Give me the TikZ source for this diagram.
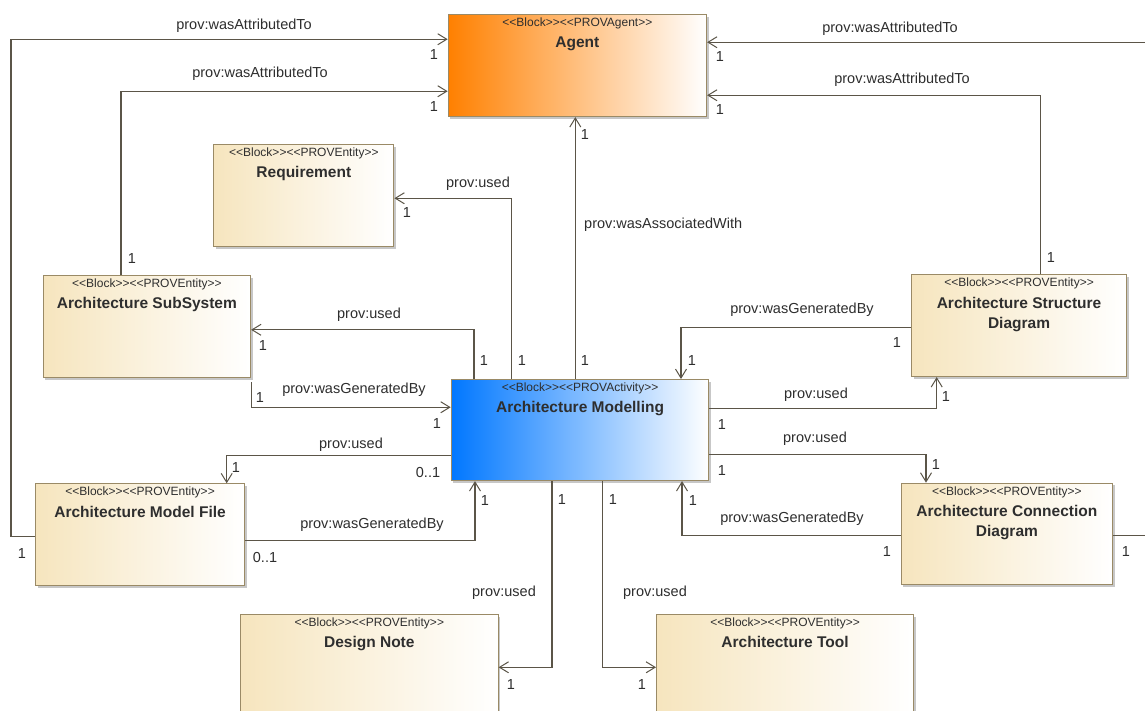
\documentclass[tikz,border=0pt]{standalone}
\usepackage{fontspec}
\setmainfont{Liberation Sans}
\usetikzlibrary{arrows.meta,shadows}

\definecolor{linec}{HTML}{5B5548}
\definecolor{edgec}{HTML}{9A8A66}
\definecolor{textc}{HTML}{2E2E2E}
\definecolor{beige}{HTML}{F6E5BE}
\definecolor{agentc}{HTML}{FF8000}
\definecolor{activityc}{HTML}{0077FF}

\tikzset{
  boxbase/.style={draw=edgec, line width=1.1pt, inner sep=0pt, anchor=north west,
    drop shadow={shadow xshift=2pt, shadow yshift=-2pt, fill=black, opacity=0.22}},
  entity/.style={boxbase, left color=beige, right color=white},
  agentbox/.style={boxbase, left color=agentc, right color=white},
  activitybox/.style={boxbase, left color=activityc, right color=white},
  stereo/.style={font=\fontsize{12}{13}\selectfont, text=textc, inner sep=0pt, anchor=base},
  blocktitle/.style={font=\bfseries\fontsize{15.5}{20}\selectfont, text=textc,
    inner sep=0pt, anchor=north, align=center},
  conn/.style={draw=linec, line width=1.2pt,
    -{Straight Barb[length=9pt,width=11pt,line width=1pt]}},
  rel/.style={font=\fontsize{14.5}{17}\selectfont, text=textc, inner sep=0pt, anchor=base},
}

% stereotype pair written with plain angle brackets
\newcommand\stpair[2]{<{}<#1>{}><{}<#2>{}>}

% block: name, style, left, top, width, height, stereotype, title
\newcommand\umlblock[8]{%
  \node[#2, minimum width=#5pt, minimum height=#6pt] (#1) at (#3,#4) {};
  \node[stereo] (#1-st) at ([yshift=-12.6pt]#1.north) {#7};
  \node[blocktitle] (#1-ti) at ([yshift=-22.4pt]#1.north) {#8};
}

\begin{document}
\begin{tikzpicture}[x=1pt,y=-1pt]
\useasboundingbox (0,0) rectangle (1145,711);
\clip (0,0) rectangle (1145,711);
\fill[white] (0,0) rectangle (1145,711);

% blocks
\umlblock{agent}{agentbox}{447.7}{14}{258.3}{102}{\stpair{Block}{PROVAgent}}{Agent}
\umlblock{req}{entity}{213.3}{144}{180}{102}{\stpair{Block}{PROVEntity}}{Requirement}
\umlblock{ss}{entity}{42.7}{275}{207.3}{102.3}{\stpair{Block}{PROVEntity}}{Architecture SubSystem}
\umlblock{am}{activitybox}{450.7}{379}{257.6}{101}{\stpair{Block}{PROVActivity}}{Architecture Modelling}
\umlblock{asd}{entity}{911}{274.3}{215}{101.7}{\stpair{Block}{PROVEntity}}{Architecture Structure\\Diagram}
\umlblock{acd}{entity}{900.7}{482.7}{211.3}{101.6}{\stpair{Block}{PROVEntity}}{Architecture Connection\\Diagram}
\umlblock{mf}{entity}{35}{483.3}{209}{102}{\stpair{Block}{PROVEntity}}{Architecture Model File}
\umlblock{dn}{entity}{240}{614}{257.5}{110}{\stpair{Block}{PROVEntity}}{Design Note}
\umlblock{tool}{entity}{656}{614}{257}{110}{\stpair{Block}{PROVEntity}}{Architecture Tool}

% connectors
\draw[conn] ([yshift=-2pt]mf.west) -- ++(-24,0) |- ([yshift=26.3pt]agent.west);
\draw[conn] ([xshift=78.3pt]ss.north west) |- ([yshift=-25.7pt]agent.west);
\draw[conn] ([yshift=-1.5pt]acd.east) -| ([xshift=460pt,yshift=23.3pt]agent.east) -- ([yshift=23.3pt]agent.east);
\draw[conn] ([xshift=129.7pt]asd.north west) |- ([yshift=-29.7pt]agent.east);
\coordinate (amtop) at ([xshift=124.6pt]am.north west);
\draw[conn] (amtop) -- (amtop |- agent.south);
\draw[conn] ([xshift=61pt]am.north west) |- ([yshift=-2.7pt]req.east);
\draw[conn] ([xshift=23.3pt]am.north west) |- ([yshift=-3.1pt]ss.east);
\draw[conn] ([yshift=-4pt]ss.south east) |- ([yshift=22.8pt]am.west);
\draw[conn] ([yshift=-25.5pt]am.west) -| ([xshift=191.7pt]mf.north west);
\draw[conn] ([yshift=-5.7pt]mf.east) -| ([xshift=24.3pt]am.south west);
\draw[conn] ([xshift=101.3pt]am.south west) |- ([yshift=-53.3pt]dn.north east);
\draw[conn] ([xshift=152pt]am.south west) |- ([yshift=-53.3pt]tool.north west);
\draw[conn] ([yshift=-1.5pt]acd.west) -| ([xshift=231.3pt]am.south west);
\draw[conn] ([yshift=-24.5pt]am.east) -| ([xshift=25.3pt]acd.north west);
\draw[conn] ([yshift=21.2pt]am.east) -| ([xshift=25.7pt]asd.south west);
\draw[conn] ([yshift=-1.5pt]asd.west) -| ([xshift=230.3pt]am.north west);

% relation names
\node[rel] (r1) at (244,30) {prov:wasAttributedTo};
\node[rel] (r2) at (260,78) {prov:wasAttributedTo};
\node[rel] (r3) at (890,33) {prov:wasAttributedTo};
\node[rel] (r4) at (902,84) {prov:wasAttributedTo};
\node[rel, anchor=base west] (r5) at (584,229) {prov:wasAssociatedWith};
\node[rel] (r6) at (478,188) {prov:used};
\node[rel] (r7) at (369,318) {prov:used};
\node[rel] (r8) at (354,393) {prov:wasGeneratedBy};
\node[rel] (r9) at (351,448) {prov:used};
\node[rel] (r10) at (372,528) {prov:wasGeneratedBy};
\node[rel] (r11) at (504,596) {prov:used};
\node[rel] (r12) at (655,596) {prov:used};
\node[rel] (r13) at (792,522) {prov:wasGeneratedBy};
\node[rel] (r14) at (815,442) {prov:used};
\node[rel] (r15) at (816,398) {prov:used};
\node[rel] (r16) at (802,313) {prov:wasGeneratedBy};

% multiplicities
\node[rel] (m1a) at (434,60) {1};
\node[rel] (m1b) at (22,558) {1};
\node[rel] (m2a) at (434,112) {1};
\node[rel] (m2b) at (132,263) {1};
\node[rel] (m3a) at (720,62) {1};
\node[rel] (m3b) at (1126,556) {1};
\node[rel] (m4a) at (720,115) {1};
\node[rel] (m4b) at (1051,262) {1};
\node[rel] (m5a) at (585,140) {1};
\node[rel] (m5b) at (585,365) {1};
\node[rel] (m6a) at (407,218) {1};
\node[rel] (m6b) at (522,365) {1};
\node[rel] (m7a) at (263,350) {1};
\node[rel] (m7b) at (484,365) {1};
\node[rel] (m8a) at (260,402) {1};
\node[rel] (m8b) at (437,428) {1};
\node[rel] (m9a) at (236,472) {1};
\node[rel] (m9b) at (428,477) {0..1};
\node[rel] (m10a) at (265,562) {0..1};
\node[rel] (m10b) at (485,505) {1};
\node[rel] (m11a) at (511,689) {1};
\node[rel] (m11b) at (562,504) {1};
\node[rel] (m12a) at (642,689) {1};
\node[rel] (m12b) at (613,504) {1};
\node[rel] (m13a) at (887,556) {1};
\node[rel] (m13b) at (693,505) {1};
\node[rel] (m14a) at (936,469) {1};
\node[rel] (m14b) at (722,475) {1};
\node[rel] (m15a) at (946,401) {1};
\node[rel] (m15b) at (722,429) {1};
\node[rel] (m16a) at (897,347) {1};
\node[rel] (m16b) at (692,365) {1};
\end{tikzpicture}
\end{document}
